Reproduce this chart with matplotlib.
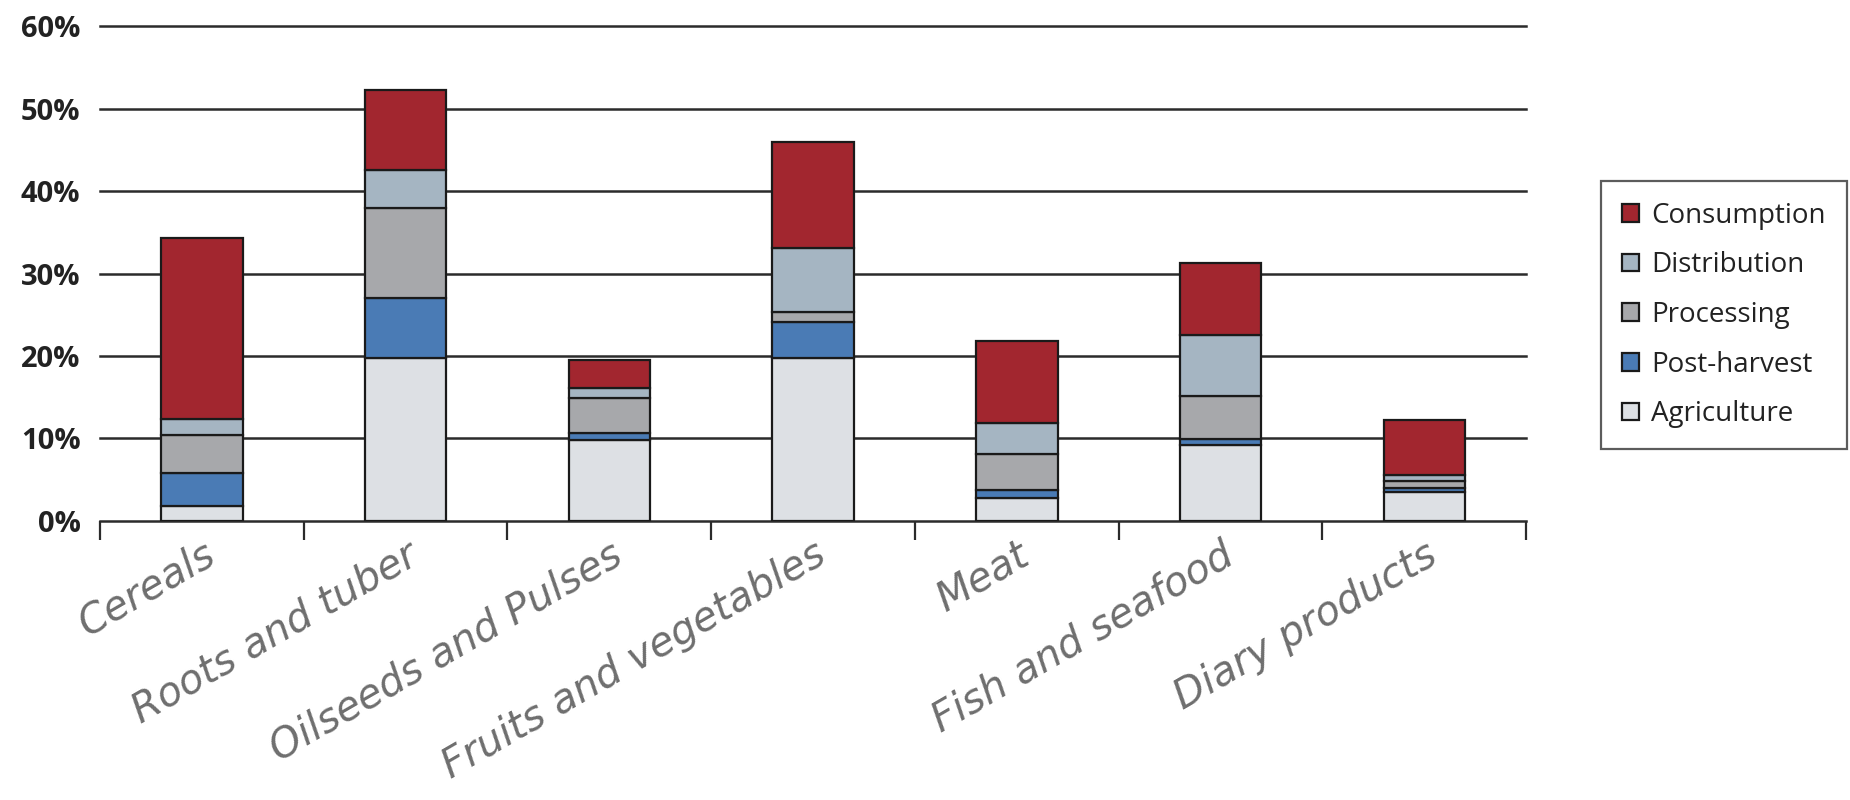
import numpy as np
import matplotlib.pyplot as plt
from matplotlib.ticker import FixedLocator

# --- Data (percent of production lost, per stage) ---
categories = ["Cereals", "Roots and tuber", "Oilseeds and Pulses",
              "Fruits and vegetables", "Meat", "Fish and seafood", "Diary products"]

agriculture  = [1.8, 19.8, 9.8, 19.7, 2.8, 9.2, 3.5]
post_harvest = [4.0,  7.2, 0.8,  4.4, 0.9, 0.7, 0.5]
processing   = [4.6, 10.9, 4.3,  1.2, 4.4, 5.2, 0.8]
distribution = [1.9,  4.7, 1.2,  7.8, 3.8, 7.5, 0.7]
consumption  = [22.0, 9.7, 3.4, 12.8, 9.9, 8.7, 6.7]

stages = ["Agriculture", "Post-harvest", "Processing", "Distribution", "Consumption"]
values = [agriculture, post_harvest, processing, distribution, consumption]
colors = ["#dde0e4", "#4a7bb5", "#a7a8ab", "#a5b5c2", "#a2262f"]

# --- Figure ---
fig = plt.figure(figsize=(18.5, 8), dpi=100)
ax = fig.add_axes([0.054, 0.349, 0.771, 0.6285])

x = np.arange(len(categories))
bottom = np.zeros(len(categories))
handles = []
for name, vals, col in zip(stages, values, colors):
    b = ax.bar(x, vals, width=0.4, bottom=bottom, color=col,
               edgecolor="#1a1a1a", linewidth=1.6, label=name, zorder=3)
    handles.append(b)
    bottom += np.array(vals)

ax.set_xlim(-0.5, len(categories) - 0.5)
ax.set_ylim(0, 61)

# horizontal grid lines
for v in range(10, 70, 10):
    ax.axhline(v, color="#2b2b2b", lw=1.8, zorder=1, clip_on=False)

ax.set_yticks(range(0, 70, 10))
ax.set_yticklabels([f"{v}%" for v in range(0, 70, 10)],
                   fontsize=21, fontweight="bold", color="#222222",
                   family="Open Sans")
ax.tick_params(axis="y", length=0, pad=14)

# category ticks at boundaries, labels at centres
ax.set_xticks(x)
ax.set_xticklabels(categories, rotation=30, ha="right", rotation_mode="anchor",
                   fontsize=29, style="italic", color="#6e6e6e")
ax.tick_params(axis="x", which="major", length=0, pad=10)
ax.xaxis.set_minor_locator(FixedLocator(np.arange(-0.5, len(categories), 1.0)))
ax.tick_params(axis="x", which="minor", length=14, width=1.6, color="#2b2b2b",
               direction="out")

for s in ["top", "right", "left"]:
    ax.spines[s].set_visible(False)
ax.spines["bottom"].set_color("#2b2b2b")
ax.spines["bottom"].set_linewidth(1.8)

# legend, top entry first
leg = fig.legend(handles[::-1], stages[::-1], loc="upper left",
                 bbox_to_anchor=(0.8655, 0.774), frameon=True, fancybox=False,
                 edgecolor="#333333", labelspacing=0.78,
                 handlelength=0.6, handleheight=0.6, handletextpad=0.45,
                 borderpad=0.75, borderaxespad=0,
                 prop={"family": "Open Sans", "size": 20})
leg.get_frame().set_linewidth(1.6)
for t in leg.get_texts():
    t.set_color("#222222")

fig.savefig("out.png", dpi=100)
